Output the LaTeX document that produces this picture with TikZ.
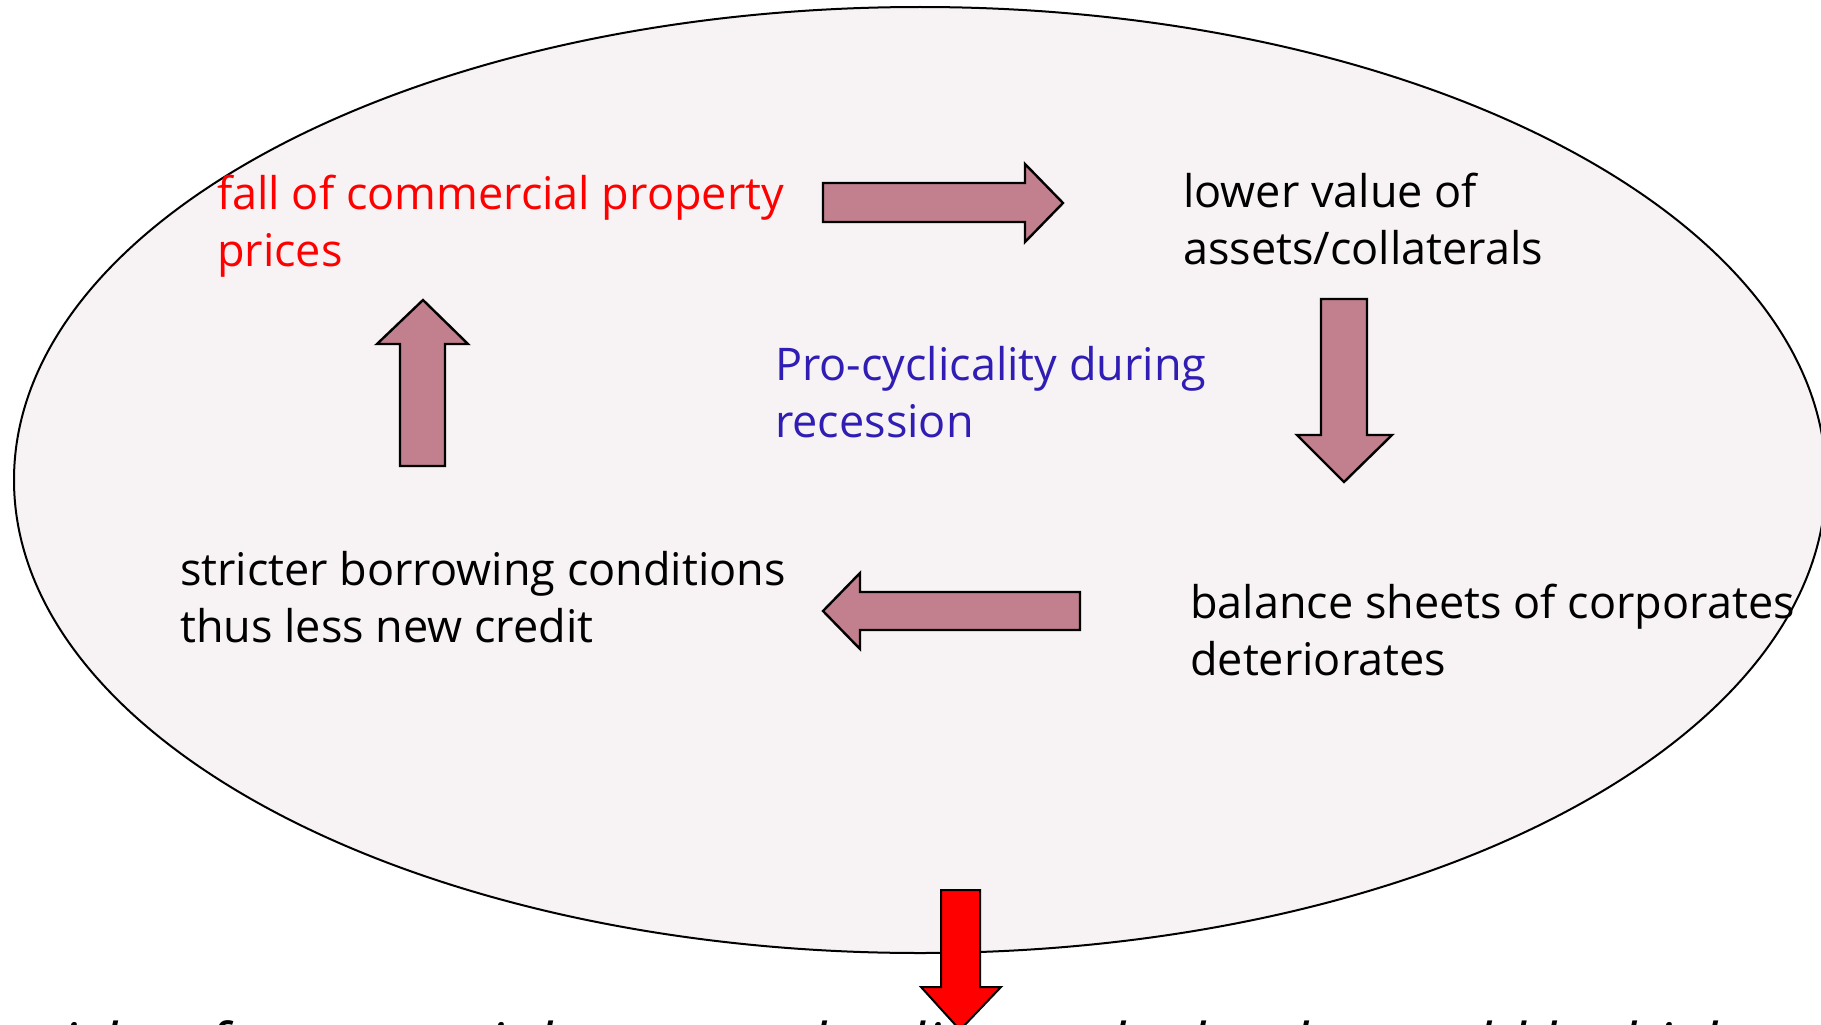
\documentclass[tikz,border=0pt]{standalone}
\usepackage{fontspec}
\setmainfont{Open Sans}
\definecolor{ellfill}{HTML}{F7F3F4}
\definecolor{arrfill}{HTML}{C27F8E}
\definecolor{procol}{RGB}{48,30,180}
\begin{document}
\begin{tikzpicture}[x=1pt,y=-1pt,
  blockarrow/.style={draw=black,line width=2.4pt,fill=arrfill,line join=miter},
  redarrow/.style={draw=black,line width=2pt,fill=red,line join=miter},
  lbl/.style={anchor=base west,inner sep=0pt,align=left,font=\fontsize{45}{57}\selectfont}
]
\useasboundingbox (0,0) rectangle (1821,1025);
\clip (0,0) rectangle (1821,1025);
\fill[white] (0,0) rectangle (1821,1025);
% big ellipse
\draw[fill=ellfill,line width=2pt] (920,480) ellipse [x radius=906, y radius=473];

% text nodes (anchor = baseline of last line)
\node[lbl,text=red] (fall) at (217,266) {fall of commercial property\\prices};
\node[lbl,text=black] (lower) at (1183,264) {lower value of\\assets/collaterals};
\node[lbl,text=procol] (pro) at (775,437) {Pro-cyclicality during\\recession};
\node[lbl,text=black] (strict) at (180,642) {stricter borrowing conditions\\thus less new credit};
\node[lbl,text=black] (bal) at (1190,675) {balance sheets of corporates\\deteriorates};

% block arrows
\draw[blockarrow] (823,183) -- (1025,183) -- (1025,164) -- (1063,203) -- (1025,242) -- (1025,222) -- (823,222) -- cycle;
\draw[blockarrow] (1321,299) -- (1367,299) -- (1367,435) -- (1392,435) -- (1344,482) -- (1297,435) -- (1321,435) -- cycle;
\draw[blockarrow] (1080,592) -- (860,592) -- (860,573) -- (823,611) -- (860,649) -- (860,630) -- (1080,630) -- cycle;
\draw[blockarrow] (400,466) -- (400,344) -- (377,344) -- (423,300) -- (468,344) -- (445,344) -- (445,466) -- cycle;

% bottom text (clipped at the page edge)
\node[anchor=base west,inner sep=0pt,font=\fontsize{60}{70}\selectfont\itshape] (risk) at (38,1066) {risks of commercial property lending to the banks would be high};

% red arrow
\draw[redarrow] (941,890) -- (980,890) -- (980,987) -- (1001,987) -- (960,1030) -- (921,987) -- (941,987) -- cycle;
\end{tikzpicture}
\end{document}
